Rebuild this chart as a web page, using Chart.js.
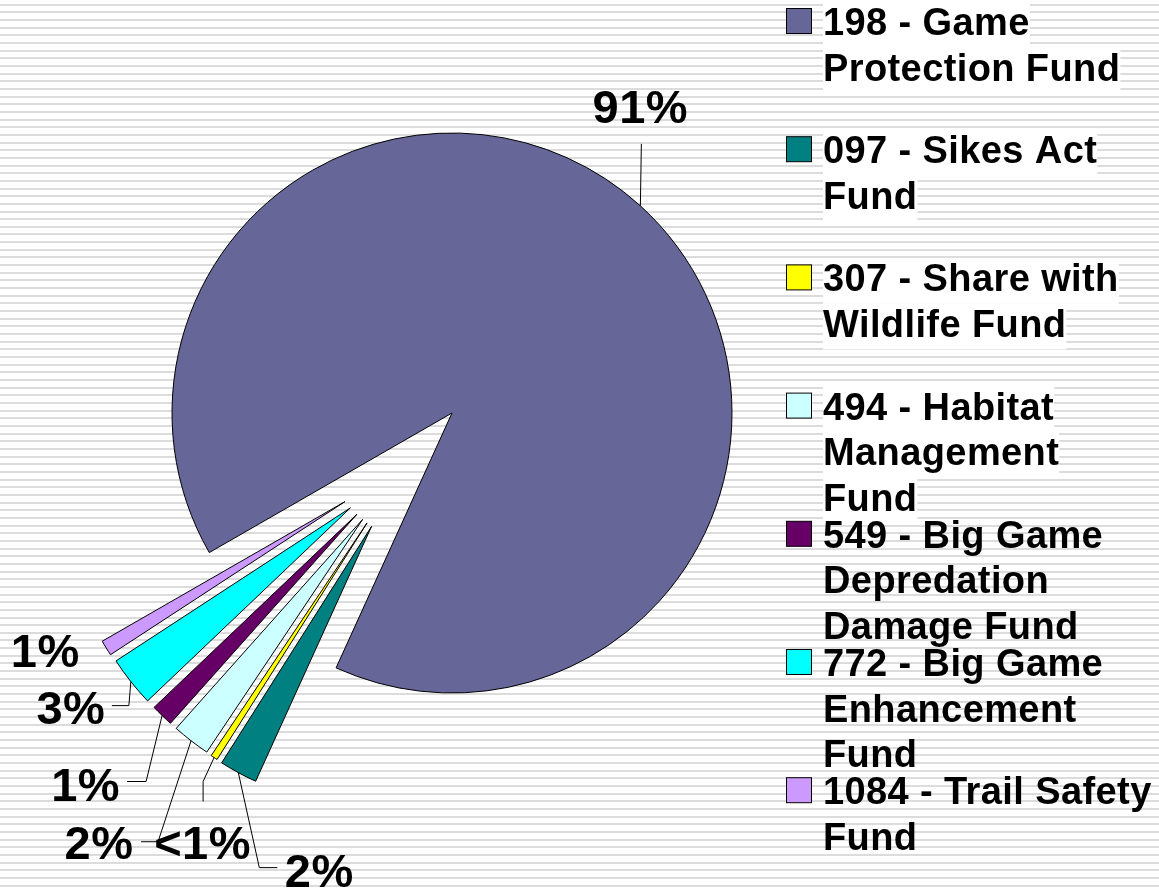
<!DOCTYPE html>
<html><head><meta charset="utf-8">
<script src="https://cdn.jsdelivr.net/npm/chart.js@4.4.0/dist/chart.umd.min.js"></script>
<style>html,body{margin:0;padding:0;background:#fff;}canvas{display:block}</style>
</head><body>
<div style="width:1159px;height:889px;position:relative"><canvas id="c" width="1159" height="889"></canvas></div>
<script>
// ---- data ----
const fundNames = ['198 - Game Protection Fund', '097 - Sikes Act Fund', '307 - Share with Wildlife Fund',
  '494 - Habitat Management Fund', '549 - Big Game Depredation Damage Fund',
  '772 - Big Game Enhancement Fund', '1084 - Trail Safety Fund'];
const legendLines = [['198 - Game', 'Protection Fund'], ['097 - Sikes Act', 'Fund'], ['307 - Share with', 'Wildlife Fund'],
  ['494 - Habitat', 'Management', 'Fund'], ['549 - Big Game', 'Depredation', 'Damage Fund'],
  ['772 - Big Game', 'Enhancement', 'Fund'], ['1084 - Trail Safety', 'Fund']];
const shareValues = [90.1, 2.2, 0.4, 2.2, 1.3, 2.9, 0.9];
const percentLabels = ['91%', '2%', '<1%', '2%', '1%', '3%', '1%'];
const sliceColors = ['#666699', '#008080', '#FFFF00', '#CCFFFF', '#660066', '#00FFFF', '#CC99FF'];

// ---- styles / layout ----
const PIE_RADIUS = 280;
const EXPLODE_DIST = 139;
const FONT_FAMILY = '"Liberation Sans", Arial, Helvetica, sans-serif';
// leader-line points and text anchor relative to each slice's outer mid point
const labelLayout = [
  { leader: [[0, 0], [1, -62]], text: [0, -83] },
  { leader: [[0, 0], [21, 95], [39, 95]], text: [81, 114] },
  { leader: [[0, 0], [-11, 24], [-11, 44]], text: [-11.5, 101] },
  { leader: [[0, 0], [-33, 101], [-50, 101]], text: [-92, 118] },
  { leader: [[0, 0], [-16, 66], [-35, 66]], text: [-76.5, 85] },
  { leader: [[0, 0], [-2, 24], [-19, 24]], text: [-60, 42] },
  { leader: null, text: [-61, 19] }
];
const LEG = { boxX: 786, box: 25, textX: 823, y0: 35, itemStep: 128.2, lineStep: 45.5, whiteBgItems: 4 };

function sliceShift(arcs, i) {
  if (i === 0) return [0, 0];
  const groupMid = (arcs[1].startAngle + arcs[arcs.length - 1].endAngle) / 2;
  const mid = (arcs[i].startAngle + arcs[i].endAngle) / 2;
  const a = (mid + groupMid) / 2;
  return [Math.cos(a) * EXPLODE_DIST, Math.sin(a) * EXPLODE_DIST];
}

const stripesPlugin = {
  id: 'stripes',
  beforeDraw(chart) {
    const { ctx, width, height } = chart;
    ctx.save();
    ctx.fillStyle = '#ffffff';
    ctx.fillRect(0, 0, width, height);
    ctx.fillStyle = '#dcdcdc';
    for (let y = 3.7; y < height; y += 7.66) ctx.fillRect(0, Math.round(y), width, 2);
    ctx.restore();
  }
};

const explodePlugin = {
  id: 'explode',
  beforeDatasetDraw(chart, args) {
    const ctx = chart.ctx;
    const arcs = args.meta.data;
    arcs.forEach((arc, i) => {
      const [dx, dy] = sliceShift(arcs, i);
      ctx.save();
      ctx.translate(dx, dy);
      arc.draw(ctx, chart.chartArea);
      ctx.restore();
    });
    return false;
  },
  afterDatasetsDraw(chart) {
    const ctx = chart.ctx;
    const arcs = chart.getDatasetMeta(0).data;
    ctx.save();
    arcs.forEach((arc, i) => {
      const [dx, dy] = sliceShift(arcs, i);
      const mid = (arc.startAngle + arc.endAngle) / 2;
      const ex = arc.x + dx + Math.cos(mid) * arc.outerRadius;
      const ey = arc.y + dy + Math.sin(mid) * arc.outerRadius;
      const lay = labelLayout[i];
      if (lay.leader) {
        ctx.beginPath();
        lay.leader.forEach(([px, py], k) => {
          if (k === 0) ctx.moveTo(ex + px, ey + py); else ctx.lineTo(ex + px, ey + py);
        });
        ctx.strokeStyle = '#000';
        ctx.lineWidth = 1;
        ctx.stroke();
      }
      ctx.font = 'bold 47px ' + FONT_FAMILY;
      ctx.letterSpacing = '0.5px';
      ctx.fillStyle = '#000';
      ctx.textAlign = 'center';
      ctx.textBaseline = 'alphabetic';
      ctx.fillText(percentLabels[i], ex + lay.text[0], ey + lay.text[1]);
    });
    ctx.restore();
  },
  afterDraw(chart) {
    const ctx = chart.ctx;
    ctx.save();
    ctx.font = 'bold 38px ' + FONT_FAMILY;
    ctx.letterSpacing = '0.4px';
    ctx.textAlign = 'left';
    ctx.textBaseline = 'alphabetic';
    legendLines.forEach((lines, i) => {
      const base = LEG.y0 + i * LEG.itemStep;
      if (i < LEG.whiteBgItems) {
        ctx.fillStyle = '#ffffff';
        lines.forEach((t, j) => {
          const w = ctx.measureText(t).width;
          ctx.fillRect(LEG.textX, base + j * LEG.lineStep - 33, w, LEG.lineStep);
        });
      }
      ctx.fillStyle = sliceColors[i];
      ctx.fillRect(LEG.boxX + 0.5, base - 27 + 0.5, LEG.box, LEG.box);
      ctx.strokeStyle = '#000';
      ctx.lineWidth = 1;
      ctx.strokeRect(LEG.boxX + 0.5, base - 27 + 0.5, LEG.box, LEG.box);
      ctx.fillStyle = '#000';
      lines.forEach((t, j) => ctx.fillText(t, LEG.textX, base + j * LEG.lineStep));
    });
    ctx.restore();
  }
};

new Chart(document.getElementById('c'), {
  type: 'pie',
  data: {
    labels: fundNames,
    datasets: [{
      data: shareValues,
      backgroundColor: sliceColors,
      borderColor: '#000000',
      borderWidth: 1
    }]
  },
  options: {
    responsive: false,
    animation: false,
    events: [],
    rotation: 240.1,
    radius: PIE_RADIUS,
    layout: { padding: { left: 0, top: 0, right: 255, bottom: 63 } },
    plugins: { legend: { display: false }, tooltip: { enabled: false } }
  },
  plugins: [stripesPlugin, explodePlugin]
});
</script>
</body></html>
